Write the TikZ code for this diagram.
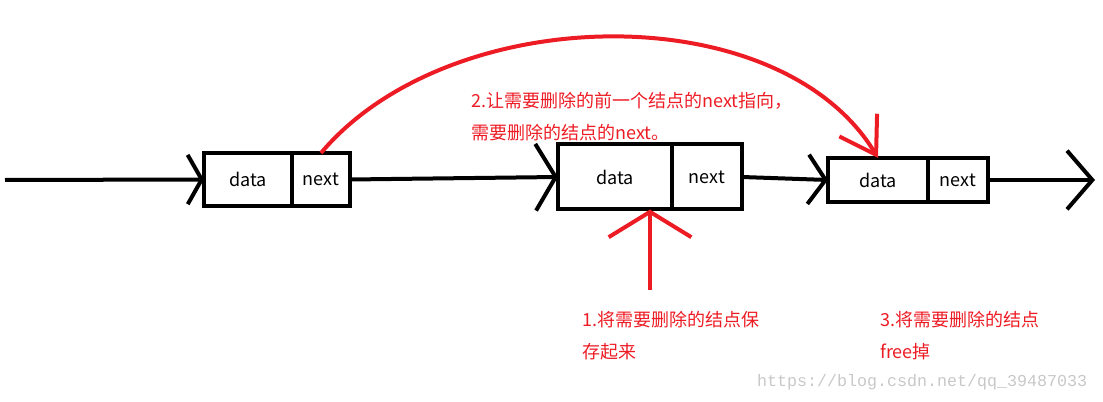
\documentclass[tikz,border=0pt]{standalone}
\usepackage{fontspec}
\setmainfont{Noto Sans CJK SC}
\setmonofont{Liberation Mono}
\usetikzlibrary{arrows.meta, positioning}
\definecolor{paintred}{RGB}{237,28,36}
\definecolor{markgray}{RGB}{200,200,200}
\tikzset{
	x=0.75pt, y=-0.75pt, % one unit is one pixel of the sketch, y runs downwards
	every node/.style={font=\fontsize{13.5}{24}\selectfont},
	cell/.style={draw, line width=3pt, inner sep=0pt, outer sep=0pt}, % the data and next boxes
	link/.style={line width=3pt}, % the black pointers
	chev/.style 2 args={-{Straight Barb[length=#1, width=#2, line width=3pt]}}, % open arrow head
	redline/.style={draw=paintred, line width=3pt},
	note/.style={text=paintred, align=left, inner sep=0pt, anchor=north west},
}
\begin{document}
\begin{tikzpicture}
	\useasboundingbox (0,0) rectangle (1103,402);
	% the three list nodes
	\node[cell, minimum width=66pt, minimum height=39.75pt] (n1data) at (248,179.5) {data};
	\node[cell, minimum width=43.5pt, minimum height=39.75pt, right=0pt of n1data] (n1next) {next\hspace{9pt}};
	\node[cell, minimum width=85.5pt, minimum height=48.75pt] (n2data) at (615,177) {data\hspace{28.5pt}};
	\node[cell, minimum width=52.5pt, minimum height=48.75pt, right=0pt of n2data] (n2next) {next\hspace{12pt}};
	\node[cell, minimum width=75pt, minimum height=33pt] (n3data) at (878,180) {data\hspace{13.5pt}};
	\node[cell, minimum width=45pt, minimum height=33pt, right=0pt of n3data] (n3next) {next};
	\coordinate (start) at (5,180);
	\coordinate (finish) at (1095,180);
	\coordinate (keep) at (650,290);
	% pointers
	\draw[link, chev={10.5pt}{37pt}] (start) -- (n1data.west);
	\draw[link, chev={15pt}{50pt}] (n1next.east) -- (n2data.west);
	\draw[link, chev={13pt}{37pt}] (n2next.east) -- (n3data.west);
	\draw[link, chev={19pt}{44pt}] (n3next.east) -- (finish);
	% the red steps
	\draw[redline, -{Straight Barb[length=26pt, width=33pt, line width=3pt]}] (n1next.north) .. controls (450,0) and (780,-5) .. (n3data.north);
	\draw[redline, -{Straight Barb[length=19pt, width=62pt, line width=3pt]}] (keep) -- (keep |- n2data.south);
	\node[note] (tell) at (471,92) {2.让需要删除的前一个结点的next指向，\\需要删除的结点的next。};
	\node[note] (save) at (582,311) {1.将需要删除的结点保\\存起来};
	\node[note] (drop) at (880,311) {3.将需要删除的结点\\free掉};
	\node[anchor=east, text=markgray, font=\ttfamily\fontsize{12.5}{15}\selectfont] (mark) at (1092,382) {https://blog.csdn.net/qq\_39487033};
\end{tikzpicture}
\end{document}
